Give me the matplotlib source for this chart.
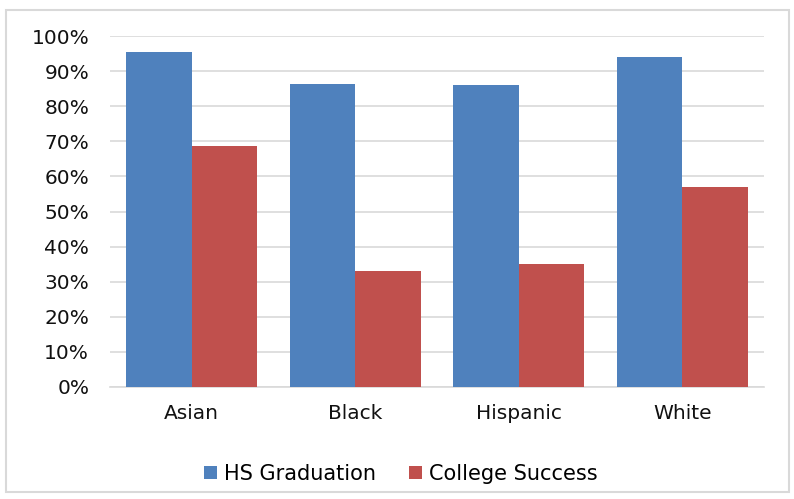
import numpy as np
import matplotlib.pyplot as plt
from matplotlib.patches import Rectangle
from matplotlib.ticker import FuncFormatter

# graduation and college success rates by group
groups = ["Asian", "Black", "Hispanic", "White"]
hs_grad = [0.953, 0.864, 0.860, 0.941]
college = [0.687, 0.331, 0.350, 0.570]

plt.rcParams['font.family'] = ['DejaVu Sans']

fig = plt.figure(figsize=(7.94, 4.99), dpi=100)
ax = fig.add_axes([110 / 794, 112 / 499, 654 / 794, 351 / 499])

x = np.arange(len(groups))
w = 0.4
ax.bar(x - w / 2, hs_grad, w, color="#4F81BD", label="HS Graduation", zorder=3)
ax.bar(x + w / 2, college, w, color="#C0504D", label="College Success", zorder=3)

ax.set_xlim(-0.5, len(groups) - 0.5)
ax.set_ylim(0, 1.0)
ax.set_yticks(np.arange(0, 1.01, 0.1))
ax.yaxis.set_major_formatter(FuncFormatter(lambda v, p: f"{v*100:.0f}%"))
ax.set_xticks(x)
ax.set_xticklabels(groups)
ax.grid(axis="y", color="#D9D9D9", linewidth=1.2, zorder=0)

for s in ["top", "right", "left"]:
    ax.spines[s].set_visible(False)
ax.spines["bottom"].set_color("#D9D9D9")
ax.spines["bottom"].set_linewidth(1.2)
ax.tick_params(axis="both", length=0, labelsize=14.5, colors="#111111")
ax.tick_params(axis="y", pad=15)
ax.tick_params(axis="x", pad=12)

ax.legend(loc="upper center", bbox_to_anchor=(0.445, -0.165), ncol=2, frameon=False,
          fontsize=15, handlelength=0.6, handleheight=0.6, handletextpad=0.35,
          columnspacing=1.6)

# light border around the whole chart
fig.patches.append(Rectangle((6 / 794, 7 / 499), 783 / 794, 482 / 499,
                             transform=fig.transFigure, fill=False,
                             edgecolor="#D9D9D9", linewidth=1.5))

fig.savefig("out.png", dpi=100)
